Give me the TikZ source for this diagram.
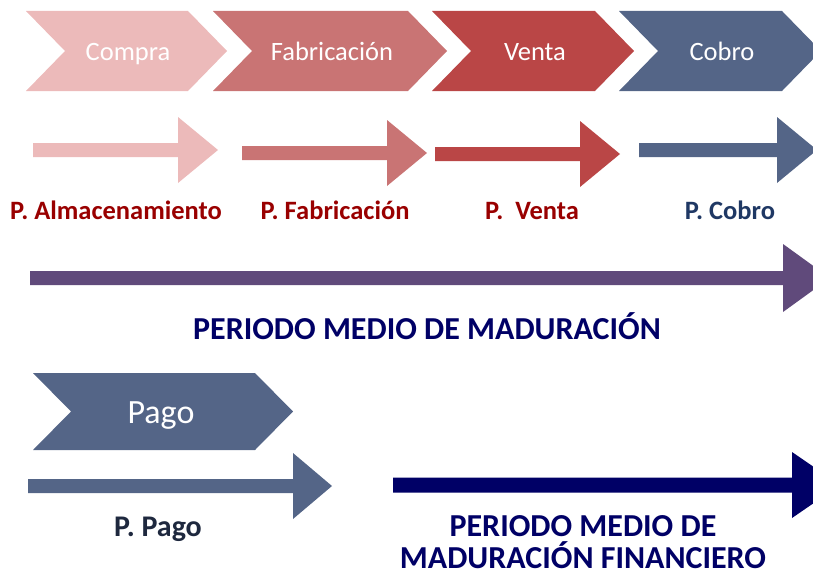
\documentclass[tikz,border=0pt]{standalone}
\usepackage{fontspec}
\setmainfont{Carlito}
\definecolor{cCompra}{RGB}{236,186,186}
\definecolor{cFab}{RGB}{201,116,116}
\definecolor{cVenta}{RGB}{186,70,70}
\definecolor{cCobro}{RGB}{84,101,135}
\definecolor{cPurple}{RGB}{96,74,123}
\definecolor{cNavy}{RGB}{0,0,102}
\definecolor{cRed}{RGB}{153,0,0}
\definecolor{cBlueLab}{RGB}{31,56,100}
\definecolor{cPagoLab}{RGB}{30,40,62}
% chevron: left, right flat end, top, bottom, depth
\newcommand{\mychev}[6]{%
  \fill[#6] (#1,#3) -- (#2,#3) -- (#2+#5,{(#3+#4)/2}) -- (#2,#4) -- (#1,#4) -- (#1+#5,{(#3+#4)/2}) -- cycle;}
% block arrow: xstart, head start, tip, y centre, shaft half, head half, colour
\newcommand{\myblk}[7]{%
  \fill[#7] (#1,#4-#5) -- (#2,#4-#5) -- (#2,#4-#6) -- (#3,#4) -- (#2,#4+#6) -- (#2,#4+#5) -- (#1,#4+#5) -- cycle;}
\tikzset{
  chevtxt/.style={text=white, anchor=base, inner sep=0pt, font=\fontsize{26.5}{30}\selectfont},
  labred/.style={text=cRed, anchor=base, inner sep=0pt, font=\bfseries\fontsize{26.5}{30}\selectfont},
  labbig/.style={text=cNavy, anchor=base, inner sep=0pt, align=center, font=\bfseries\fontsize{32}{32}\selectfont},
}
\begin{document}
\begin{tikzpicture}[x=1pt,y=-1pt]
\useasboundingbox (0,0) rectangle (813,578);
\clip (0,0) rectangle (813,578);
% chevrons
\mychev{26}{188}{11}{91}{39}{cCompra}
\mychev{213}{408}{11}{91}{39}{cFab}
\mychev{432}{595}{11}{91}{39}{cVenta}
\mychev{619}{782}{11}{91}{39}{cCobro}
\node[chevtxt] (compra) at (128,60) {Compra};
\node[chevtxt] (fab) at (332,60) {Fabricación};
\node[chevtxt] (venta) at (535,60) {Venta};
\node[chevtxt] (cobro) at (722,60) {Cobro};
% period arrows
\myblk{33}{178}{218}{150}{7}{33}{cCompra}
\myblk{242}{387}{427}{153}{7}{33}{cFab}
\myblk{435}{580}{620}{154}{7}{33}{cVenta}
\myblk{639}{777}{817}{150}{7}{33}{cCobro}
\node[labred] (palm) at (116,219) {P. Almacenamiento};
\node[labred] (pfab) at (335,219) {P. Fabricación};
\node[labred] (pven) at (532,219) {P.\ \ Venta};
\node[labred, text=cBlueLab] (pcob) at (730,219) {P. Cobro};
% PMM
\myblk{30}{783}{830}{278}{7}{34}{cPurple}
\node[labbig] (pmm) at (427,339) {PERIODO MEDIO DE MADURACIÓN};
% Pago
\mychev{33}{255}{373}{450}{38}{cCobro}
\node[chevtxt, font=\fontsize{34}{38}\selectfont] (pago) at (161,423) {Pago};
\myblk{28}{293}{332}{486}{7}{33}{cCobro}
\node[labred, text=cPagoLab, font=\bfseries\fontsize{30}{32}\selectfont] (ppago) at (158,536) {P. Pago};
% PMMF
\myblk{393}{792}{840}{485}{7.5}{33}{cNavy}
\node[labbig] (pmmf1) at (583,536) {PERIODO MEDIO DE};
\node[labbig] (pmmf2) at (583,568) {MADURACIÓN FINANCIERO};
\end{tikzpicture}
\end{document}
